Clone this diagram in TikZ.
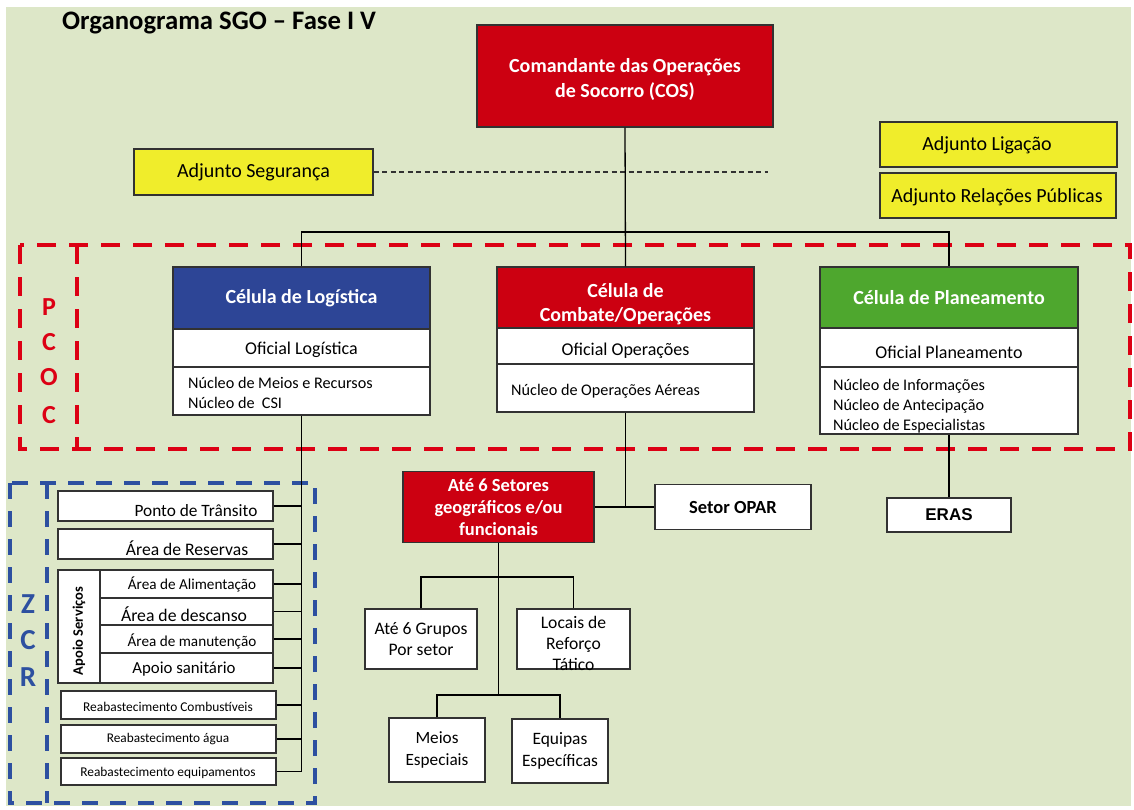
\documentclass[tikz,border=0pt]{standalone}
\usepackage{fontspec}
\setmainfont{Carlito}
\newfontfamily\arialf{Liberation Sans}
\newcommand\myfs[2]{\fontsize{#1}{#2}\selectfont}
\definecolor{bg}{RGB}{221,231,200}
\definecolor{cred}{RGB}{204,0,17}
\definecolor{cyel}{RGB}{240,237,43}
\definecolor{cblue}{RGB}{45,69,150}
\definecolor{cgreen}{RGB}{78,167,46}
\definecolor{dred}{RGB}{220,0,20}
\definecolor{dblue}{RGB}{45,80,160}
\definecolor{bline}{RGB}{50,50,50}
\tikzset{
  box/.style={draw=bline, line width=1.4pt, inner sep=0pt, align=center, fill=white},
  conn/.style={draw=black, line width=1.3pt},
  bus/.style={draw=black, line width=1.8pt},
  txt/.style={inner sep=0pt, align=center},
  ltxt/.style={inner sep=0pt, align=left, anchor=west},
  reddash/.style={draw=dred, line width=4.5pt, dash pattern=on 19pt off 13pt},
  bluedash/.style={draw=dblue, line width=3.5pt, dash pattern=on 16pt off 12pt},
}
\begin{document}
\begin{tikzpicture}[x=1pt,y=-1pt]
\useasboundingbox (0,0) rectangle (1134,809);
\fill[white] (0,0) rectangle (1134,809);
\fill[bg] (6,7) rectangle (1131,806);

% title
\node[txt, anchor=west, font=\myfs{26.7}{30}\bfseries] (title) at (62,23) {Organograma SGO – Fase I V};

% PCOC frame
\draw[reddash] (20,245) rectangle (1130,449);
\draw[reddash] (77,245) -- (77,449);
\foreach \l/\yy in {P/307,C/342,O/377,C/415}
  \node[txt, text=dred, font=\myfs{26}{28}\bfseries] at (49,\yy) {\l};

% ZCR frame
\draw[bluedash] (10,483) rectangle (315,803);
\draw[bluedash] (47,483) -- (47,803);
\foreach \l/\yy in {Z/604,C/640,R/677}
  \node[txt, text=dblue, font=\myfs{29}{30}\bfseries] at (28,\yy) {\l};

% COS
\node[box, fill=cred, text=white, minimum width=296pt, minimum height=102pt] (cos) at (625,76) {};
\node[txt, text=white, font=\myfs{20}{25}\bfseries] at (625,79) {Comandante das Operações\\de Socorro (COS)};

% adjuncts
\node[box, fill=cyel, minimum width=239pt, minimum height=46pt, font=\myfs{20}{22}] (adjS) at (253.5,172) {Adjunto Segurança};
\node[box, fill=cyel, minimum width=237pt, minimum height=45pt] (adjL) at (998.5,144.5) {};
\node[txt, font=\myfs{20}{22}] at (987,145.5) {Adjunto Ligação};
\node[box, fill=cyel, minimum width=236pt, minimum height=45pt] (adjR) at (998,195.5) {};
\node[txt, font=\myfs{20}{22}] at (997,197) {Adjunto Relações Públicas};
\coordinate (dashend) at (768,172);
\draw[line width=1.2pt, dash pattern=on 5pt off 3.5pt, draw=bline] (adjS.east) -- (dashend);

% cells
\node[box, fill=cblue, text=white, minimum width=257pt, minimum height=62pt, font=\myfs{20}{24}\bfseries] (logH) at (301.5,298) {Célula de Logística};
\node[box, minimum width=257pt, minimum height=38pt] (logO) at (301.5,348) {};
\node[txt, font=\myfs{18}{20}] at (301.5,350) {Oficial Logística};
\node[box, minimum width=257pt, minimum height=48pt] (logN) at (301.5,391) {};
\node[ltxt, font=\myfs{16.2}{20}] at (188,393) {Núcleo de Meios e Recursos\\Núcleo de\ \ CSI};

\node[box, fill=cred, text=white, minimum width=257pt, minimum height=61pt] (comH) at (625.5,297.5) {};
\node[txt, text=white, font=\myfs{20}{24}\bfseries] at (625.5,304) {Célula de\\Combate/Operações};
\node[box, minimum width=257pt, minimum height=36pt] (comO) at (625.5,346) {};
\node[txt, font=\myfs{18}{20}] at (625.5,351) {Oficial Operações};
\node[box, minimum width=257pt, minimum height=48pt] (comN) at (625.5,388) {};
\node[ltxt, font=\myfs{16.2}{20}] at (511,391) {Núcleo de Operações Aéreas};

\node[box, fill=cgreen, text=white, minimum width=258pt, minimum height=61pt, font=\myfs{20}{24}\bfseries] (plaH) at (949,297.5) {Célula de Planeamento};
\node[box, minimum width=258pt, minimum height=39pt] (plaO) at (949,347.5) {};
\node[txt, font=\myfs{18}{20}] at (949,352) {Oficial Planeamento};
\node[box, minimum width=258pt, minimum height=67pt] (plaN) at (949,400.5) {};
\node[ltxt, font=\myfs{16.2}{20}] at (833,406) {Núcleo de Informações\\Núcleo de Antecipação\\Núcleo de Especialistas};

% top connectors
\coordinate (jtop) at (625.5,232);
\draw[conn] (cos.south) -- (comH.north);
\draw[conn] (logH.north) |- (jtop) -| (plaH.north);

% ZCR list
\node[box, minimum width=215pt, minimum height=30pt] (ponto) at (165.5,506) {};
\node[txt, font=\myfs{17.3}{18}] at (196,511) {Ponto de Trânsito};
\node[box, minimum width=215pt, minimum height=30pt] (reserv) at (165.5,544) {};
\node[txt, font=\myfs{17.6}{18}] at (187,548) {Área de Reservas};
\node[box, minimum width=42pt, minimum height=113pt] (apoio) at (79,626.5) {};
\node[txt, rotate=90, font=\myfs{14.5}{16}\bfseries] at (79,631) {Apoio Serviços};
\node[box, minimum width=173pt, minimum height=28pt] (alim) at (186.5,584) {};
\node[txt, font=\myfs{15.2}{16}] at (192,584) {Área de Alimentação};
\node[box, minimum width=173pt, minimum height=27pt] (desc) at (186.5,611.5) {};
\node[txt, font=\myfs{17.7}{18}] at (184,614) {Área de descanso};
\node[box, minimum width=173pt, minimum height=28pt] (manu) at (186.5,639) {};
\node[txt, font=\myfs{15.2}{16}] at (192,641) {Área de manutenção};
\node[box, minimum width=173pt, minimum height=30pt] (sanit) at (186.5,668) {};
\node[txt, font=\myfs{16.8}{18}] at (184,669) {Apoio sanitário};
\node[box, minimum width=215pt, minimum height=28pt] (comb) at (168.5,705) {};
\node[txt, font=\myfs{13.4}{14}] at (168,707) {Reabastecimento Combustíveis};
\node[box, minimum width=215pt, minimum height=28pt] (agua) at (168.5,739) {};
\node[txt, font=\myfs{13.3}{14}] at (168,739) {Reabastecimento água};
\node[box, minimum width=215pt, minimum height=27pt] (equi) at (168.5,771.5) {};
\node[txt, font=\myfs{13.4}{14}] at (168,773) {Reabastecimento equipamentos};

\coordinate (zbus) at (301.5,772);
\draw[bus] (logN.south) -- (zbus);
\foreach \n in {ponto,reserv,alim,desc,manu,sanit,comb,agua,equi}
  \draw[conn] (\n.east) -- (\n.east -| zbus);

% sectors
\node[box, fill=cred, text=white, minimum width=191pt, minimum height=71pt, font=\myfs{18.5}{22}\bfseries] (sect) at (498.5,507) {Até 6 Setores\\geográficos e/ou\\funcionais};
\node[box, minimum width=156pt, minimum height=45pt, font=\myfs{18.5}{20}\bfseries] (opar) at (733,507) {Setor OPAR};
\draw[conn] (comN.south) |- (sect.east);
\draw[conn] (sect.east) -- (opar.west);

% ERAS
\node[box, minimum width=124pt, minimum height=34pt, font=\arialf\myfs{17}{18}\bfseries] (eras) at (949,515) {ERAS};
\draw[conn] (plaN.south) -- (eras.north);

% groups
\node[box, minimum width=112pt, minimum height=60pt, font=\myfs{17.6}{21}] (grp) at (421,639) {Até 6 Grupos\\Por setor};
\node[box, minimum width=113pt, minimum height=60pt] (loc) at (573.5,639) {};
\node[txt, font=\myfs{17.6}{21}] at (573.5,643) {Locais de\\Reforço\\Tático};
\node[box, minimum width=96pt, minimum height=64pt, font=\myfs{17.2}{22}] (meios) at (437,750) {Meios\\Especiais};
\node[box, minimum width=96pt, minimum height=64pt, font=\myfs{17.4}{22}] (equip) at (560,751) {Equipas\\Específicas};
\coordinate (j1) at (498.5,577);
\coordinate (j2) at (498.5,695);
\draw[bus] (sect.south) -- (j2);
\draw[conn] (grp.north) |- (j1) -| (loc.north);
\draw[conn] (meios.north) |- (j2) -| (equip.north);
\end{tikzpicture}
\end{document}
